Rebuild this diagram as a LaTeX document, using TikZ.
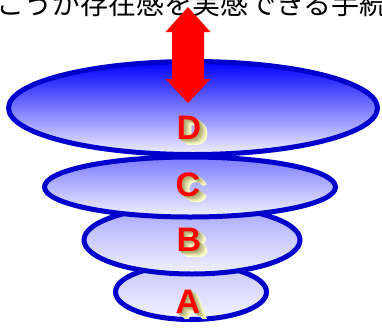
\documentclass[tikz,border=0pt]{standalone}
\usepackage{fontspec}
\setsansfont{Liberation Sans}
\newfontfamily\jpfont{Noto Sans CJK JP}
\usetikzlibrary{shapes.geometric}
\definecolor{rim}{RGB}{0,0,204}
\definecolor{sidelight}{RGB}{255,255,200}
\definecolor{sidedark}{RGB}{120,110,55}

\begin{document}
\begin{tikzpicture}[x=1pt,y=-1pt]
  \tikzstyle{layer}=[ellipse,draw=rim,line width=5pt,inner sep=0pt,bottom color=blue!5!white]
  \tikzstyle{face}=[font=\sffamily\bfseries\fontsize{34}{34}\selectfont,inner sep=0pt]
  \tikzstyle{bigarrow}=[fill=red]
  \useasboundingbox (0,0) rectangle (382,327);
  \node[anchor=base west,inner sep=0pt,font=\jpfont\fontsize{28}{28}\selectfont] (title) at (-4,14.5) {こうが存在感を実感できる手続};
  % smallest layer first, wider ones lie on top
  \node[layer,top color=blue!22!white,minimum width=151pt,minimum height=55pt] (la) at (191,292) {};
  \node[layer,top color=blue!35!white,minimum width=216pt,minimum height=68pt] (lb) at (192,240) {};
  \node[layer,top color=blue!52!white,minimum width=291pt,minimum height=60pt] (lc) at (190,187) {};
  \node[layer,top color=blue,minimum width=369pt,minimum height=93pt] (ld) at (193,108) {};
  \foreach \n/\l/\px/\py in {a/A/188/302,b/B/189/240,c/C/188/185,d/D/189/128}{
    \foreach \i in {7,...,1}{
      \pgfmathtruncatemacro\mix{30+\i*10}
      \node[face,text=sidelight!\mix!sidedark] (\n s\i) at (\px+\i*1.1,\py+\i*0.8) {\l};
    }
    \node[face,text=red] (\n txt) at (\px,\py) {\l};
  }
  % two-way arrow between the text and the top layer
  \coordinate (up) at (188,7);
  \coordinate (down) at (188,103);
  \fill[bigarrow] (up) -- ++(22.5,25) -- ++(-6.5,0) -- ++(0,47) -- ++(6.5,0) -- (down)
    -- ++(-22.5,-24) -- ++(6.5,0) -- ++(0,-47) -- ++(-6.5,0) -- cycle;
\end{tikzpicture}
\end{document}
